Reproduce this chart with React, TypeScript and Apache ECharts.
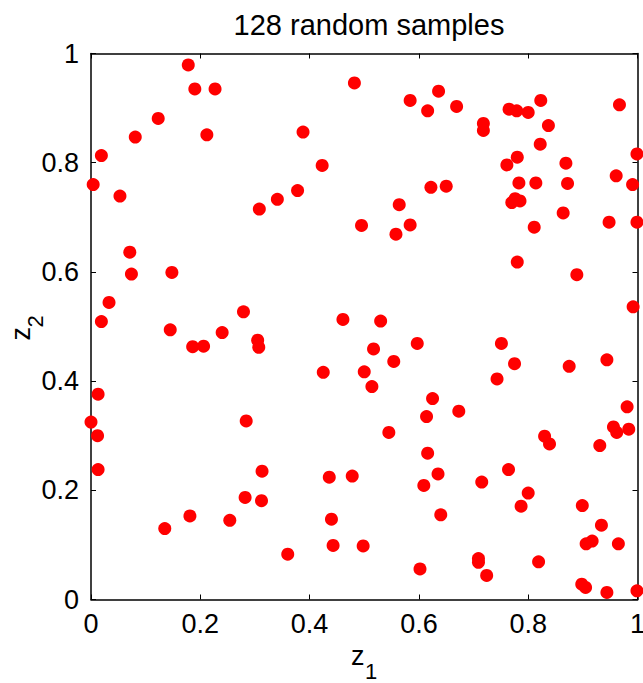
import React, { useEffect, useRef } from "react";
import * as echarts from "echarts";

const titleText = "128 random samples";
const tickValues = [0, 0.2, 0.4, 0.6, 0.8, 1];
const xName = ["z", "1"];
const yName = ["z", "2"];

// z1 (horizontal) and z2 (vertical) coordinates of the 128 samples
const z1 = [
  0.178, 0.190, 0.227, 0.123, 0.081, 0.212, 0.388, 0.482, 0.019, 0.004,
  0.053, 0.423, 0.378, 0.341, 0.308, 0.495, 0.071, 0.074, 0.148, 0.033,
  0.019, 0.279, 0.461,
  0.584, 0.636, 0.616, 0.669, 0.718, 0.718, 0.765, 0.779, 0.800, 0.823,
  0.837, 0.967, 0.822, 0.999, 0.780, 0.761, 0.869, 0.961, 0.991, 0.783,
  0.814, 0.872, 0.622, 0.650, 0.776, 0.770, 0.785, 0.564, 0.584, 0.558,
  0.811, 0.864, 0.948, 0.999, 0.780, 0.889, 0.992, 0.530,
  0.145, 0.186, 0.206, 0.240, 0.305, 0.307, 0.425, 0.500, 0.013, 0.000,
  0.012, 0.284, 0.013, 0.313, 0.436, 0.478, 0.282, 0.312, 0.181, 0.254,
  0.135, 0.440, 0.360, 0.443, 0.498,
  0.517, 0.597, 0.554, 0.514, 0.751, 0.775, 0.743, 0.875, 0.944, 0.625,
  0.614, 0.673, 0.545, 0.830, 0.839, 0.931, 0.981, 0.956, 0.962, 0.984,
  0.616, 0.764, 0.635, 0.715, 0.609, 0.800, 0.787, 0.640, 0.899, 0.934,
  0.906, 0.917, 0.965, 0.602, 0.709, 0.709, 0.724, 0.819, 0.898, 0.905,
  0.944, 0.999,
];
const z2 = [
  0.979, 0.935, 0.935, 0.881, 0.847, 0.851, 0.856, 0.946, 0.813, 0.760,
  0.739, 0.795, 0.749, 0.733, 0.715, 0.685, 0.636, 0.596, 0.599, 0.544,
  0.509, 0.527, 0.513,
  0.914, 0.931, 0.895, 0.903, 0.872, 0.859, 0.898, 0.895, 0.892, 0.914,
  0.868, 0.906, 0.834, 0.816, 0.810, 0.796, 0.799, 0.776, 0.760, 0.763,
  0.763, 0.762, 0.755, 0.757, 0.734, 0.727, 0.730, 0.723, 0.686, 0.669,
  0.682, 0.708, 0.691, 0.691, 0.618, 0.595, 0.536, 0.510,
  0.494, 0.463, 0.464, 0.489, 0.475, 0.462, 0.416, 0.417, 0.376, 0.325,
  0.300, 0.327, 0.238, 0.235, 0.224, 0.226, 0.187, 0.181, 0.153, 0.145,
  0.130, 0.147, 0.083, 0.099, 0.098,
  0.459, 0.469, 0.436, 0.390, 0.469, 0.432, 0.404, 0.427, 0.439, 0.368,
  0.335, 0.345, 0.306, 0.299, 0.285, 0.282, 0.353, 0.316, 0.306, 0.312,
  0.268, 0.238, 0.230, 0.215, 0.209, 0.195, 0.171, 0.155, 0.172, 0.136,
  0.102, 0.107, 0.102, 0.056, 0.075, 0.068, 0.044, 0.069, 0.028, 0.022,
  0.013, 0.016,
];

const FONT = "'Liberation Sans', Arial, Helvetica, sans-serif";

export default function App() {
  const ref = useRef<HTMLDivElement>(null);

  useEffect(() => {
    if (!ref.current) return;
    const chart = echarts.init(ref.current, null, { renderer: "svg" });
    const data = z1.map((v, i) => [v, z2[i]]);
    const lineStyle = { color: "#000", width: 1.5 };
    const baseAxis = {
      type: "value" as const,
      min: 0,
      max: 1,
      interval: 0.2,
      splitLine: { show: false },
      axisLine: { show: true, onZero: false, lineStyle },
      axisTick: { show: true, inside: true, length: 5, lineStyle: { color: "#000", width: 1 } },
    };
    const labelStyle = { color: "#000", fontSize: 27, fontFamily: FONT };
    const mainFont = { fontSize: 27, fontFamily: FONT, fill: "#000", textAlign: "left", verticalAlign: "middle" };
    const subFont = { fontSize: 22, fontFamily: FONT, fill: "#000", textAlign: "left", verticalAlign: "middle" };
    chart.setOption({
      animation: false,
      backgroundColor: "#fff",
      title: {
        text: titleText,
        left: 364,
        textAlign: "center",
        top: 5,
        textStyle: { color: "#000", fontSize: 29, fontWeight: "normal", fontFamily: FONT },
      },
      grid: {
        left: 91,
        top: 53.5,
        right: 5.5,
        bottom: 83.5,
        containLabel: false,
        outerBoundsMode: "none",
      },
      graphic: [
        {
          type: "group",
          x: 351,
          y: 656,
          children: [
            { type: "text", x: 0, y: 0, style: { ...mainFont, text: xName[0] } },
            { type: "text", x: 14, y: 15.5, style: { ...subFont, text: xName[1] } },
          ],
        },
        {
          type: "group",
          x: 9,
          y: 340,
          rotation: Math.PI / 2,
          children: [
            { type: "text", x: -0.5, y: 12, style: { ...mainFont, text: yName[0] } },
            { type: "text", x: 12.5, y: 26.5, style: { ...subFont, text: yName[1] } },
          ],
        },
      ],
      xAxis: [
        {
          ...baseAxis,
          position: "bottom",
          axisLabel: {
            ...labelStyle,
            margin: 11,
            formatter: (v: number) => (tickValues.includes(Math.round(v * 10) / 10) ? String(Math.round(v * 10) / 10) : ""),
          },
        },
        { ...baseAxis, position: "top", axisLabel: { show: false } },
      ],
      yAxis: [
        {
          ...baseAxis,
          position: "left",
          axisLabel: {
            ...labelStyle,
            margin: 12,
            formatter: (v: number) => String(Math.round(v * 10) / 10),
          },
        },
        { ...baseAxis, position: "right", axisLabel: { show: false } },
      ],
      series: [
        {
          type: "scatter",
          xAxisIndex: 0,
          yAxisIndex: 0,
          data,
          symbol: "circle",
          symbolSize: 13,
          clip: false,
          itemStyle: { color: "#ff0000", opacity: 1 },
          emphasis: { disabled: true },
        },
      ],
    });
    return () => chart.dispose();
  }, []);

  return (
    <div
      ref={ref}
      style={{ position: "fixed", left: 0, top: 0, width: 643, height: 683, background: "#fff" }}
    />
  );
}
